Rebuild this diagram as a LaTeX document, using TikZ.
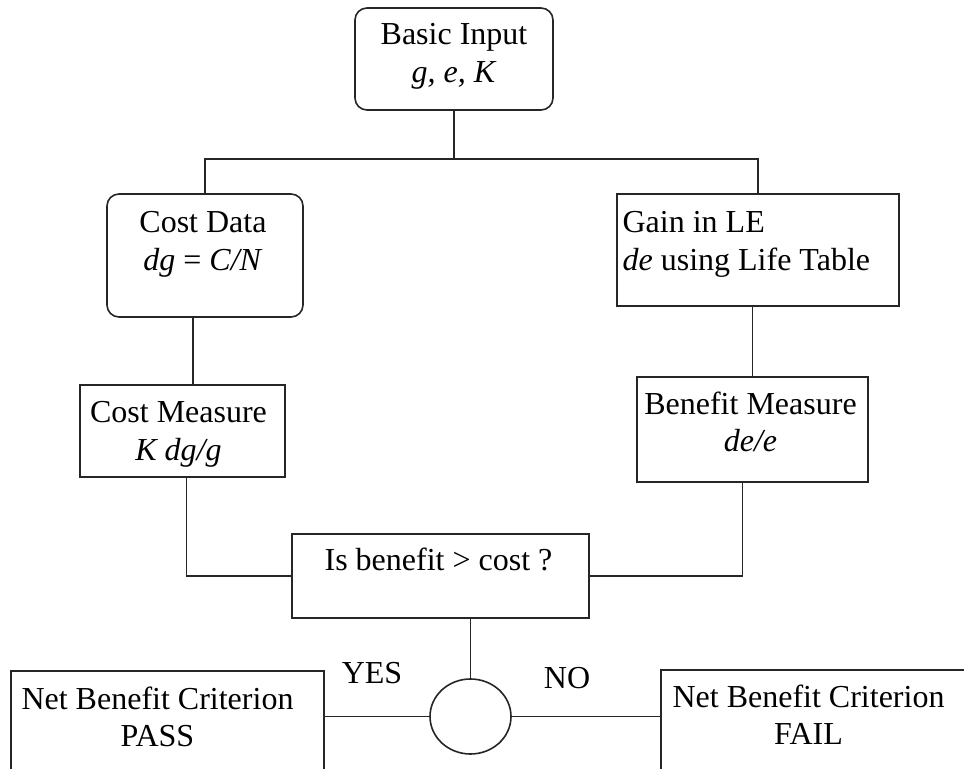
\documentclass[tikz,border=0pt]{standalone}
\usepackage{fontspec}
\setmainfont{Liberation Serif}
\usetikzlibrary{positioning, shapes.geometric}

\begin{document}
\begin{tikzpicture}[
    x=0.5pt, y=-0.5pt,
    flowbox/.style={
        rectangle,
        draw=black!85,
        line width=0.8pt,
        inner sep=0pt
    },
    roundbox/.style={flowbox, rounded corners=6pt},
    boxtext/.style={
        inner sep=0pt,
        align=center,
        font=\fontsize{16}{18.8}\selectfont
    },
    link/.style={draw=black!85, line width=0.85pt}
]
    \useasboundingbox (0,0) rectangle (964,769);
    \clip (0,0) rectangle (964,769);

    % Input
    \node[roundbox, minimum width=99pt, minimum height=51pt] (input) at (454,59) {};
    \node[boxtext, below=8pt of input.north] {Basic Input\\ \textit{g, e, K}};

    % Cost and gain data
    \node[roundbox, minimum width=98pt, minimum height=61.5pt] (costdata) at (205,255.5) {};
    \node[boxtext, below=9pt of costdata.north, xshift=-1pt] {Cost Data\\ \textit{dg} = \textit{C/N}};
    \node[flowbox, minimum width=141pt, minimum height=56pt] (gain) at (758,250) {};
    \node[boxtext, align=left, below right=9pt and 3pt of gain.north west] {Gain in LE\\ \textit{de} using Life Table};

    % Measures
    \node[flowbox, minimum width=102.5pt, minimum height=46pt] (costm) at (182.5,431) {};
    \node[boxtext, below=8.5pt of costm.north, xshift=-2pt] {Cost Measure\\ \textit{K dg/g}};
    \node[flowbox, minimum width=115.5pt, minimum height=52.5pt] (benm) at (752.5,429.5) {};
    \node[boxtext, below=7.5pt of benm.north, xshift=-1pt] {Benefit Measure\\ \textit{de/e}};

    % Test
    \node[flowbox, minimum width=148.5pt, minimum height=42pt] (test) at (440.5,576) {};
    \node[boxtext, below=7pt of test.north, xshift=-1pt] {Is benefit > cost ?};
    \node[flowbox, ellipse, minimum width=40.5pt, minimum height=37.5pt] (decide) at (470.5,716.5) {};

    % Outcomes
    \node[flowbox, minimum width=156.5pt, minimum height=100pt] (pass) at (167.5,771) {};
    \node[boxtext, below=8pt of pass.north, xshift=-5pt] {Net Benefit Criterion\\ PASS};
    \node[flowbox, minimum width=169.5pt, minimum height=100pt] (fail) at (830.5,770) {};
    \node[boxtext, below=7.5pt of fail.north, xshift=-11pt] {Net Benefit Criterion\\ FAIL};
    \node[boxtext] (yes) at (372,673) {YES};
    \node[boxtext] (no) at (567,678) {NO};

    % Connectors
    \draw[link] (input.south) -- ++(0,48) coordinate (bar);
    \draw[link] (costdata.north) |- (bar) -| (gain.north);
    \draw[link] ([xshift=-6pt]costdata.south) -- ([xshift=-6pt]costdata.south |- costm.north);
    \draw[link] (gain.south -| benm.north) -- (benm.north);
    \draw[link] ([xshift=2pt]costm.south) |- (test.west);
    \draw[link] ([xshift=-5pt]benm.south) |- (test.east);
    \draw[link] (test.south -| decide.north) -- (decide.north);
    \draw[link] (decide.west) -- (decide.west -| pass.east);
    \draw[link] (decide.east) -- (decide.east -| fail.west);
\end{tikzpicture}
\end{document}
